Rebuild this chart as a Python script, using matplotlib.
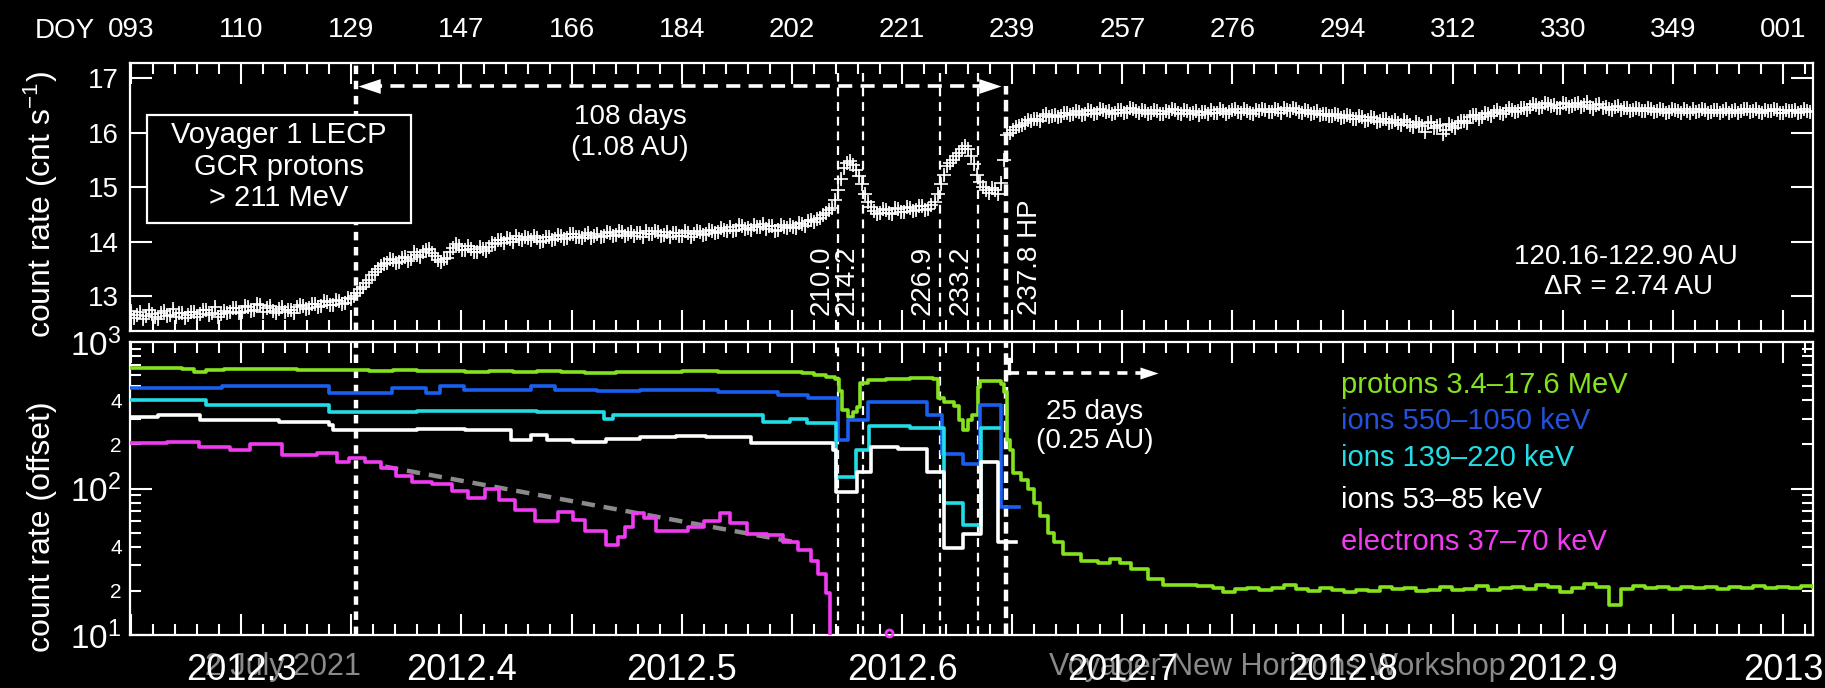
import numpy as np
import matplotlib
matplotlib.use('Agg')
import matplotlib.pyplot as plt
from matplotlib import ticker, transforms

plt.rcParams['font.family'] = ['Liberation Sans', 'DejaVu Sans']
plt.rcParams['mathtext.fontset'] = 'custom'
plt.rcParams['mathtext.rm'] = 'Liberation Sans'
plt.rcParams['mathtext.it'] = 'Liberation Sans:italic'
plt.rcParams['mathtext.bf'] = 'Liberation Sans:bold'

# ---------------- data ----------------
# GCR protons > 211 MeV count rate (cnt/s), two samples per day, DOY 92 .. 371 of 2012
gcr_doy = np.arange(92, 372)
gcr_rate = [
    12.66, 12.60, 12.70, 12.63, 12.67, 12.58, 12.72, 12.65, 12.62, 12.69,
    12.64, 12.71, 12.66, 12.74, 12.68, 12.62, 12.73, 12.70, 12.77, 12.71,
    12.80, 12.75, 12.83, 12.78, 12.72, 12.76, 12.70, 12.74, 12.79, 12.82,
    12.77, 12.86, 12.81, 12.88, 12.84, 12.91, 12.87, 12.95, 13.05, 13.17,
    13.30, 13.44, 13.55, 13.60, 13.66, 13.63, 13.72, 13.68, 13.76, 13.80,
    13.86, 13.74, 13.62, 13.70, 13.88, 13.92, 13.84, 13.87, 13.80, 13.86,
    13.90, 13.96, 14.02, 14.07, 14.00, 14.05, 14.09, 14.03, 14.06, 14.01,
    14.08, 14.04, 14.10, 14.06, 14.13, 14.09, 14.12, 14.07, 14.14, 14.11,
    14.16, 14.12, 14.18, 14.14, 14.10, 14.15, 14.19, 14.13, 14.17, 14.12,
    14.09, 14.15, 14.11, 14.16, 14.13, 14.18, 14.14, 14.20, 14.17, 14.22,
    14.26, 14.21, 14.29, 14.24, 14.30, 14.27, 14.23, 14.28, 14.22, 14.26,
    14.30, 14.25, 14.33, 14.38, 14.36, 14.44, 14.52, 14.62, 14.95, 15.35,
    15.48, 15.32, 15.05, 14.72, 14.56, 14.52, 14.58, 14.50, 14.60, 14.55,
    14.62, 14.57, 14.65, 14.60, 14.72, 15.05, 15.38, 15.50, 15.62, 15.76,
    15.58, 15.22, 15.00, 14.90, 14.95, 15.08, 15.96, 16.05, 16.12, 16.18,
    16.22, 16.26, 16.30, 16.28, 16.33, 16.31, 16.36, 16.34, 16.38, 16.35,
    16.40, 16.37, 16.42, 16.39, 16.36, 16.41, 16.38, 16.43, 16.37, 16.40,
    16.36, 16.39, 16.34, 16.38, 16.41, 16.35, 16.39, 16.37, 16.33, 16.38,
    16.41, 16.36, 16.40, 16.38, 16.43, 16.37, 16.40, 16.35, 16.39, 16.42,
    16.38, 16.41, 16.45, 16.39, 16.43, 16.37, 16.40, 16.36, 16.32, 16.35,
    16.30, 16.33, 16.28, 16.31, 16.26, 16.29, 16.24, 16.27, 16.22, 16.25,
    16.20, 16.18, 16.23, 16.15, 16.19, 16.12, 16.17, 16.08, 16.14, 16.05,
    16.12, 16.18, 16.22, 16.28, 16.32, 16.29, 16.35, 16.38, 16.36, 16.40,
    16.42, 16.39, 16.45, 16.47, 16.50, 16.48, 16.53, 16.50, 16.46, 16.52,
    16.49, 16.54, 16.51, 16.48, 16.50, 16.46, 16.44, 16.47, 16.42, 16.45,
    16.41, 16.44, 16.40, 16.43, 16.39, 16.42, 16.38, 16.41, 16.37, 16.40,
    16.43, 16.39, 16.41, 16.38, 16.42, 16.40, 16.37, 16.41, 16.39, 16.43,
    16.40, 16.38, 16.42, 16.39, 16.41, 16.37, 16.40, 16.42, 16.38, 16.40,
]
# second sample of each day (half a day later)
gcr_rate_half = [
    12.72, 12.64, 12.58, 12.74, 12.61, 12.69, 12.63, 12.76, 12.68, 12.60,
    12.70, 12.62, 12.75, 12.65, 12.79, 12.66, 12.69, 12.78, 12.68, 12.82,
    12.73, 12.86, 12.70, 12.81, 12.69, 12.80, 12.75, 12.68, 12.84, 12.76,
    12.85, 12.79, 12.90, 12.83, 12.93, 12.86, 12.96, 13.00, 13.12, 13.24,
    13.38, 13.50, 13.58, 13.68, 13.60, 13.70, 13.65, 13.80, 13.72, 13.84,
    13.79, 13.66, 13.68, 13.80, 13.95, 13.85, 13.91, 13.81, 13.90, 13.83,
    13.97, 14.03, 13.98, 14.04, 14.10, 14.02, 14.06, 14.11, 14.00, 14.08,
    14.02, 14.12, 14.05, 14.14, 14.08, 14.06, 14.16, 14.11, 14.08, 14.17,
    14.10, 14.20, 14.11, 14.17, 14.15, 14.09, 14.14, 14.20, 14.10, 14.18,
    14.16, 14.10, 14.19, 14.08, 14.20, 14.12, 14.22, 14.16, 14.24, 14.19,
    14.20, 14.30, 14.23, 14.21, 14.27, 14.33, 14.28, 14.20, 14.31, 14.24,
    14.27, 14.34, 14.29, 14.40, 14.42, 14.48, 14.58, 14.76, 15.15, 15.45,
    15.40, 15.20, 14.88, 14.64, 14.50, 14.60, 14.53, 14.62, 14.54, 14.63,
    14.56, 14.66, 14.58, 14.68, 14.88, 15.22, 15.45, 15.58, 15.70, 15.70,
    15.42, 15.10, 14.94, 14.98, 14.88, 15.50, 16.00, 16.10, 16.15, 16.24,
    16.25, 16.22, 16.34, 16.31, 16.29, 16.37, 16.32, 16.39, 16.33, 16.41,
    16.35, 16.44, 16.38, 16.34, 16.42, 16.36, 16.45, 16.39, 16.42, 16.35,
    16.41, 16.35, 16.40, 16.43, 16.37, 16.42, 16.34, 16.40, 16.38, 16.35,
    16.37, 16.43, 16.35, 16.42, 16.38, 16.44, 16.36, 16.41, 16.44, 16.38,
    16.44, 16.36, 16.41, 16.46, 16.38, 16.42, 16.34, 16.39, 16.35, 16.30,
    16.34, 16.27, 16.32, 16.25, 16.30, 16.22, 16.28, 16.20, 16.26, 16.18,
    16.23, 16.14, 16.20, 16.10, 16.16, 16.02, 16.20, 16.12, 15.98, 16.16,
    16.08, 16.22, 16.18, 16.32, 16.26, 16.36, 16.31, 16.42, 16.34, 16.45,
    16.38, 16.46, 16.42, 16.52, 16.46, 16.55, 16.49, 16.45, 16.54, 16.48,
    16.53, 16.47, 16.56, 16.44, 16.52, 16.48, 16.41, 16.49, 16.45, 16.40,
    16.45, 16.39, 16.46, 16.38, 16.44, 16.36, 16.43, 16.39, 16.44, 16.37,
    16.38, 16.44, 16.36, 16.42, 16.37, 16.44, 16.40, 16.36, 16.43, 16.38,
    16.43, 16.36, 16.40, 16.44, 16.37, 16.42, 16.39, 16.36, 16.43, 16.38,
]
gcr_err = 0.09

# protons 3.4-17.6 MeV (offset count rate)
prot_doy = [92, 95, 98, 101, 103, 105, 108, 112, 116, 120, 124, 128, 132, 136, 140,
            144, 148, 152, 156, 160, 164, 168, 171, 173, 178, 184, 190, 196, 200,
            204, 206, 208, 209.5, 210.1, 210.7, 211.6, 212.4, 213.2, 213.7, 214.9,
            218, 222, 225.8, 226.5, 227.5, 229.2, 230.0, 230.8, 231.5, 232.3, 233.2,
            233.6, 237.0, 237.5, 238.1, 238.6, 239.1, 240.3, 241.5, 242.5, 243.6,
            244.8, 245.8, 247.4, 250.3, 253.1, 255.2, 256.9, 258.6, 261.4, 264.0,
            266.9, 269.7, 272.3, 274.0,
            276, 278, 280, 282, 284, 286, 288, 290, 292, 294,
            296, 298, 300, 302, 304, 306, 308, 310, 312, 314,
            316, 318, 320, 322, 324, 326, 328, 330, 332, 334,
            336, 338, 340, 342, 344, 346, 348, 350, 352, 354,
            356, 358, 360, 362, 364, 366, 368, 370, 372]
prot_val = [665, 660, 668, 655, 625, 648, 655, 650, 652, 645, 648, 640, 636, 640, 632,
            635, 628, 632, 626, 630, 622, 618, 610, 625, 628, 630, 626, 628, 622,
            615, 595, 575, 555, 460, 344, 309, 331, 360, 523, 550,
            560, 565, 555, 414, 390, 363, 293, 251, 293, 316, 495,
            540, 520, 455, 214, 182, 127, 114, 100, 79, 65,
            50, 43, 36, 32, 31, 33, 31, 28, 24, 22,
            22, 21.5, 21, 19.6,
            20.5, 21.0, 20.2, 20.8, 21.8, 20.6, 20.1, 20.9, 20.4, 19.8,
            20.3, 20.0, 21.2, 20.5, 20.9, 19.9, 20.4, 21.1, 20.2, 20.7,
            21.5, 20.3, 20.8, 21.4, 20.6, 22.0, 21.3, 19.6, 21.0, 22.4,
            21.2, 16.0, 20.5, 21.6, 20.8, 21.3, 20.6, 21.1, 20.9, 21.4,
            20.7, 21.2, 20.8, 21.5, 21.0, 21.3, 20.9, 21.6, 21.2]

# ions 550-1050 keV
ionh_doy = [92, 107.6, 125.4, 135.8, 141.5, 143.8, 147.8, 158.9, 162.9, 170, 177,
            190, 200, 205, 210.0, 211.7, 215.0, 224.8, 227.3, 230.7, 233.5, 237.0, 240.0]
ionh_val = [485, 498, 447, 485, 447, 498, 470, 498, 470, 460, 470,
            457, 435, 415, 214, 293, 391, 316, 173, 148, 372, 75, 75]

# ions 139-220 keV
ionm_doy = [92, 105, 125.4, 140, 160, 171, 172.6, 197.5, 202, 204.8, 209.6, 212.9,
            215.1, 222, 227.5, 230.7, 233.7, 236.8]
ionm_val = [402, 372, 334, 340, 334, 300, 316, 286, 300, 280, 120, 183,
            269, 258, 79, 56, 259, 259]

# ions 53-85 keV
ionl_doy = [92, 97, 104, 117, 125.4, 126, 140, 148, 155.6, 159, 161.6, 166, 171.4,
            177, 183, 188, 195.5, 209.2, 209.6, 213.2, 215.4, 220, 224.8, 227.5,
            230.7, 233.7, 236.6, 239.5]
ionl_val = [309, 315, 294, 285, 270, 251, 255, 251, 214, 232, 214, 209, 219,
            224, 230, 224, 204, 182, 95, 130, 193, 185, 130, 39,
            49, 152, 43, 43]

# electrons 37-70 keV
elec_doy = [92.5, 97.2, 98.5, 103.8, 109, 112.3, 117.6, 123.4, 126.7, 128.7, 131.4,
            134, 136.5, 139.2, 142.5, 145.8, 148.5, 151.3, 153.6, 156.3, 159.6,
            163.4, 166, 168, 171.4, 173.4, 174.5, 175.9, 177.7, 179.7, 183.7,
            185, 187.7, 190.3, 192.1, 194.8, 198.1, 200.8, 203.4, 205.4, 206.6,
            207.9, 208.6]
elec_val = [204, 204, 208, 193, 182, 200, 169, 175, 152, 162, 152,
            138, 121, 110, 107, 96, 86, 100, 83, 71, 60,
            69, 61, 51, 41, 47, 55, 68, 63, 51, 51,
            55, 60, 68, 58, 49, 48, 43, 38, 32, 26,
            19.5, 8]
elec_dot_doy = [218.5]
elec_dot_val = [10.3]

# exponential trend (gray dashed)
trend_doy = [134.7, 202.8]
trend_val = [141, 43]

# event markers (DOY)
hp_start_doy = 129.8
hp_doy = 237.8
event_doy = [210.0, 214.2, 226.9, 233.2]
event_lab = ['210.0', '214.2', '226.9', '233.2']

doy_tick_labels = ['093', '110', '129', '147', '166', '184', '202', '221', '239',
                   '257', '276', '294', '312', '330', '349', '001']
year_tick_labels = ['', '2012.3', '', '2012.4', '', '2012.5', '', '2012.6', '',
                    '2012.7', '', '2012.8', '', '2012.9', '', '2013']

legend_labels = ['protons 3.4\u201317.6 MeV', 'ions 550\u20131050 keV',
                 'ions 139\u2013220 keV', 'ions 53\u201385 keV', 'electrons 37\u201370 keV']

C_GREEN = '#84e21e'
C_BLUE = '#1a5ff0'
C_BLUE_TXT = '#2450dc'
C_CYAN = '#22dde6'
C_WHITE = 'white'
C_MAG = '#f03cf0'


def yr(doy):
    return 2012 + (np.asarray(doy, dtype=float) - 1) / 366.0


W, H = 1825, 688
fig = plt.figure(figsize=(W / 100, H / 100), dpi=100, facecolor='black')
ax1 = fig.add_axes([130 / W, 1 - 331 / H, 1683 / W, 268.5 / H])
ax2 = fig.add_axes([130 / W, 1 - 635 / H, 1683 / W, 293 / H])

major_x = np.round(np.arange(2012.25, 2013.001, 0.05), 2)
minor_x = np.round(np.arange(2012.25, 2013.0101, 0.01), 2)

for ax in (ax1, ax2):
    ax.set_facecolor('black')
    for s in ax.spines.values():
        s.set_color('white')
        s.set_linewidth(1.6)
    ax.set_xlim(2012.2495, 2013.0136)
    ax.xaxis.set_major_locator(ticker.FixedLocator(major_x))
    ax.xaxis.set_minor_locator(ticker.FixedLocator(minor_x))
    ax.tick_params(which='both', direction='in', colors='white',
                   top=True, bottom=True, left=True, right=True)
    ax.tick_params(which='major', length=15, width=1.5)
    ax.tick_params(which='minor', length=8, width=1.5)

# ---------------- top panel ----------------
n = min(len(gcr_doy), len(gcr_rate))
n2 = min(len(gcr_doy), len(gcr_rate_half))
ax1.errorbar(yr(gcr_doy[:n]), gcr_rate[:n], yerr=gcr_err, fmt='+', color='white',
             ms=10, mew=1.2, ecolor='#c8c8c8', elinewidth=0.8, zorder=3)
ax1.errorbar(yr(gcr_doy[:n2] + 0.5), gcr_rate_half[:n2], yerr=gcr_err, fmt='+', color='white',
             ms=10, mew=1.2, ecolor='#c8c8c8', elinewidth=0.8, zorder=3)
ax1.set_ylim(12.355, 17.29)
ax1.yaxis.set_major_locator(ticker.FixedLocator([13, 14, 15, 16, 17]))
ax1.yaxis.set_minor_locator(ticker.NullLocator())
ax1.tick_params(axis='y', which='major', length=16, labelsize=20, pad=8)
ax1.tick_params(axis='x', labeltop=True, labelbottom=False, labelsize=20, pad=14)
ax1.set_xticklabels(doy_tick_labels)
fig.text(95 / W, 1 - 38 / H, 'DOY', ha='right', va='baseline', fontsize=20, color='white')

# vertical event lines (top)
ax1.axvline(yr(hp_start_doy), color='white', lw=3.2, ls=(0, (1.9, 1.5)), zorder=2)
ax1.axvline(yr(hp_doy), ymax=0.912, color='white', lw=3.2, ls=(0, (2.6, 1.2)), zorder=2)
for d in event_doy:
    ax1.axvline(yr(d), ymax=0.96, color='white', lw=1.6, ls=(0, (4.0, 2.6)), zorder=2)

# rotated event labels
for d, lab in zip(event_doy, event_lab):
    tr = transforms.offset_copy(ax1.get_xaxis_transform(), fig=fig, x=-4, y=0, units='dots')
    ax1.text(yr(d), 0.06, lab, rotation=90, ha='right', va='bottom', fontsize=20,
             color='white', transform=tr)
trhp = transforms.offset_copy(ax1.get_xaxis_transform(), fig=fig, x=11, y=0, units='dots')
ax1.text(yr(hp_doy), 0.06, '237.8 HP', rotation=90, ha='left', va='bottom', fontsize=20,
         color='white', transform=trhp)

# 108-day arrow
arr_y = 16.86
ax1.plot(yr([hp_start_doy + 2.0, hp_doy - 3.0]), [arr_y, arr_y], color='white', lw=2.6,
         ls=(0, (3.9, 2.3)), zorder=4)
ax1.plot(yr([hp_start_doy + 0.4]), [arr_y], ls='none', color='white',
         marker=[(0, 0), (3, 1), (3, -1)], ms=32, mew=0, zorder=5)
ax1.plot(yr([hp_doy - 0.7]), [arr_y], ls='none', color='white',
         marker=[(0, 0), (-3, 1), (-3, -1)], ms=32, mew=0, zorder=5)
ax1.text((630 - 130) / 1683, (331 - 117) / 268.5, '108 days', transform=ax1.transAxes,
         ha='center', va='center', fontsize=20, color='white')
ax1.text((630 - 130) / 1683, (331 - 148) / 268.5, '(1.08 AU)', transform=ax1.transAxes,
         ha='center', va='center', fontsize=20, color='white')

# instrument box (opaque, covers the dashed line)
rect = plt.Rectangle(((147 - 130) / 1683, (331 - 223) / 268.5), (411 - 147) / 1683,
                     (223 - 115) / 268.5, transform=ax1.transAxes, facecolor='black',
                     edgecolor='white', lw=1.6, zorder=6)
ax1.add_patch(rect)
for txt, yp in zip(['Voyager 1 LECP', 'GCR protons', '> 211 MeV'], [135, 167, 198]):
    ax1.text((279 - 130) / 1683, (331 - yp) / 268.5, txt, transform=ax1.transAxes,
             ha='center', va='center', fontsize=21, color='white', zorder=7)

ax1.text((1626 - 130) / 1683, (331 - 257) / 268.5, '120.16-122.90 AU', transform=ax1.transAxes,
         ha='center', va='center', fontsize=20, color='white')
ax1.text((1628 - 130) / 1683, (331 - 287) / 268.5, '\u0394R = 2.74 AU', transform=ax1.transAxes,
         ha='center', va='center', fontsize=20, color='white')

# ---------------- bottom panel ----------------
ax2.set_yscale('log')
ax2.set_ylim(10, 1000)
ax2.yaxis.set_major_locator(ticker.FixedLocator([10, 100, 1000]))
ax2.yaxis.set_major_formatter(ticker.FixedFormatter(['$10^1$', '$10^2$', '$10^3$']))
minor_y = [m * d for d in (10, 100) for m in range(2, 10)]
minor_lab = [('2' if m == 2 else '4' if m == 4 else '') for d in (10, 100) for m in range(2, 10)]
ax2.yaxis.set_minor_locator(ticker.FixedLocator(minor_y))
ax2.yaxis.set_minor_formatter(ticker.FixedFormatter(minor_lab))
ax2.tick_params(axis='y', which='major', length=16, labelsize=24, pad=6)
ax2.tick_params(axis='y', which='minor', length=8, labelsize=15, pad=6)
ax2.set_xticklabels(year_tick_labels)
ax2.tick_params(axis='x', which='major', labelsize=26, pad=13)

ax2.plot(yr(trend_doy), trend_val, color='#8a8a8a', lw=3.2, ls=(0, (3.0, 2.0)), zorder=2)
ax2.plot(yr(prot_doy), prot_val, drawstyle='steps-post', color=C_GREEN, lw=2.6, zorder=4)
ax2.plot(yr(ionh_doy), ionh_val, drawstyle='steps-post', color=C_BLUE, lw=2.6, zorder=4)
ax2.plot(yr(ionm_doy), ionm_val, drawstyle='steps-post', color=C_CYAN, lw=2.6, zorder=4)
ax2.plot(yr(ionl_doy), ionl_val, drawstyle='steps-post', color=C_WHITE, lw=2.6, zorder=4)
ax2.plot(yr(elec_doy), elec_val, drawstyle='steps-post', color=C_MAG, lw=2.6, zorder=4)
ax2.plot(yr(elec_dot_doy), elec_dot_val, ls='none', marker='o', ms=5, mfc='none',
         mec=C_MAG, mew=2, zorder=4, clip_on=False)

ax2.axvline(yr(hp_start_doy), color='white', lw=3.2, ls=(0, (1.9, 1.5)), zorder=3)
ax2.axvline(yr(hp_doy), color='white', lw=3.2, ls=(0, (2.6, 1.2)), zorder=3)
for d in event_doy:
    ax2.axvline(yr(d), color='white', lw=1.6, ls=(0, (4.0, 2.6)), zorder=3)

# 25-day arrow
arr2_y = 614
ax2.plot(yr([hp_doy + 0.5, hp_doy + 0.5]), [760, arr2_y], color='white', lw=2.4, zorder=5)
ax2.plot(yr([hp_doy + 0.5, 261.0]), [arr2_y, arr2_y], color='white', lw=2.6,
         ls=(0, (2.8, 2.2)), zorder=5)
ax2.plot(yr([263.2]), [arr2_y], ls='none', color='white',
         marker=[(0, 0), (-3, 1), (-3, -1)], ms=26, mew=0, zorder=5)
ax2.text((1095 - 130) / 1683, (635 - 412) / 293, '25 days', transform=ax2.transAxes,
         ha='center', va='center', fontsize=20, color='white')
ax2.text((1095 - 130) / 1683, (635 - 441) / 293, '(0.25 AU)', transform=ax2.transAxes,
         ha='center', va='center', fontsize=20, color='white')

# legend texts
for lab, col, yp in zip(legend_labels, [C_GREEN, C_BLUE_TXT, C_CYAN, 'white', C_MAG],
                        [385, 421, 458, 500, 542]):
    ax2.text((1341 - 130) / 1683, (635 - yp) / 293, lab, transform=ax2.transAxes,
             ha='left', va='center', fontsize=21, color=col)

# axis titles
fig.text(41 / W, 1 - 205 / H, 'count rate (cnt s$^{-1}$)', rotation=90, ha='center',
         va='center', fontsize=23, color='white')
fig.text(42 / W, 1 - 527 / H, 'count rate (offset)', rotation=90, ha='center',
         va='center', fontsize=23, color='white')

# watermarks
fig.text(283 / W, 1 - 667 / H, '2 July 2021', ha='center', va='center', fontsize=22,
         color='#8a8a8a', zorder=-1)
fig.text(1277 / W, 1 - 667 / H, 'Voyager-New Horizons Workshop', ha='center', va='center',
         fontsize=22, color='#8a8a8a', zorder=-1)

fig.savefig('out.png', dpi=100, facecolor='black')
